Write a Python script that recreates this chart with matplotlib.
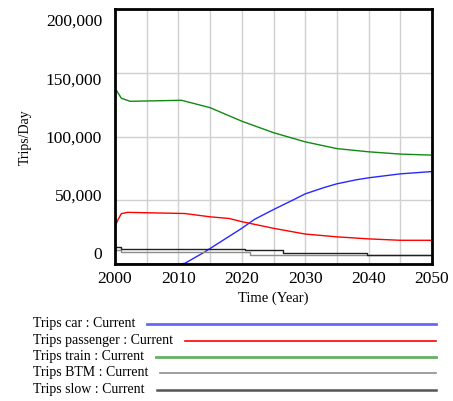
import matplotlib
matplotlib.use("Agg")
import matplotlib.pyplot as plt
from matplotlib.ticker import MultipleLocator

plt.rcParams['font.family'] = ['Liberation Serif', 'DejaVu Serif']

# series (Trips/Day)
car_years = [2000, 2010, 2011, 2014, 2017, 2020, 2022, 2025, 2028, 2030, 2033, 2035, 2038, 2040, 2045, 2050]
car_trips = [0, 0, 500, 9000, 18500, 28000, 35000, 42700, 50000, 55000, 60000, 62900, 66000, 67600, 70700, 72500]

pass_years = [2000, 2000.5, 2001, 2002, 2011, 2015, 2018, 2020, 2025, 2030, 2035, 2040, 2045, 2050]
pass_trips = [29500, 35000, 39500, 40500, 39600, 37000, 35700, 33200, 28000, 23500, 21300, 19700, 18600, 18600]

train_years = [2000, 2001, 2002.4, 2010.5, 2015, 2020, 2025, 2030, 2035, 2040, 2045, 2050]
train_trips = [138000, 130000, 127600, 128400, 122600, 112000, 103000, 95800, 90500, 88000, 86200, 85400]

btm_years = [2000, 2001, 2021.3, 2030, 2050]
btm_trips = [11000, 9300, 7300, 7000, 7000]

slow_years = [2000, 2001, 2020.5, 2026.5, 2039.7, 2050]
slow_trips = [13200, 11900, 10600, 8400, 7300, 7300]

y_labels = ['0', '50,000', '100,000', '150,000', '200,000']
y_values = [0, 50000, 100000, 150000, 200000]
x_ticks = [2000, 2010, 2020, 2030, 2040, 2050]

legend_names = ['Trips car : Current', 'Trips passenger : Current', 'Trips train : Current',
                'Trips BTM : Current', 'Trips slow : Current']
line_colors = ['#2828ff', '#ff0000', '#108a10', '#8c8c8c', '#202020']
legend_colors = ['#6666ff', '#ff0000', '#66b066', '#8c8c8c', '#555555']
legend_widths = [2.0, 1.2, 2.0, 1.2, 1.8]

fig = plt.figure(figsize=(4.53, 4.02), dpi=100)
ax = fig.add_axes([115/453, 137/402, 317/453, 255/402])

ax.plot(car_years, car_trips, color=line_colors[0], lw=1)
ax.plot(pass_years, pass_trips, color=line_colors[1], lw=1)
ax.plot(train_years, train_trips, color=line_colors[2], lw=1)
ax.plot(btm_years, btm_trips, color=line_colors[3], lw=1, drawstyle='steps-post')
ax.plot(slow_years, slow_trips, color=line_colors[4], lw=1, drawstyle='steps-post')

ax.set_xlim(2000, 2050)
ax.set_ylim(0, 200000)
ax.xaxis.set_major_locator(MultipleLocator(5))
ax.yaxis.set_major_locator(MultipleLocator(50000))
ax.grid(True, color='#d0d0d0', lw=1)
ax.set_axisbelow(True)
ax.tick_params(length=0, labelleft=False, labelbottom=False)
for s in ax.spines.values():
    s.set_linewidth(2)
    s.set_color('black')

# vensim-style labels, slightly offset from grid lines
for v, lab in zip(y_values, y_labels):
    ax.text(-0.041, 0.039 + v / 200000 * 0.914, lab, transform=ax.transAxes,
            ha='right', va='center', fontsize=12.5)
for yr in x_ticks:
    ax.text(yr, -0.055, str(yr), transform=ax.get_xaxis_transform(),
            ha='center', va='center', fontsize=12.5)

fig.text(25/453, 1 - 137/402, 'Trips/Day', rotation=90, ha='center', va='center', fontsize=10)
fig.text(273/453, 1 - 298/402, 'Time (Year)', ha='center', va='center', fontsize=10.5)

# legend below the chart
renderer = fig.canvas.get_renderer()
leg_y = [324, 341, 357, 373, 390]
for name, c, w, yy in zip(legend_names, legend_colors, legend_widths, leg_y):
    t = fig.text(33/453, 1 - yy/402, name, ha='left', va='center', fontsize=10)
    bb = t.get_window_extent(renderer)
    x0 = (bb.x1 + 12) / 453
    fig.add_artist(plt.Line2D([x0, 436/453], [1 - (yy + 1)/402] * 2, color=c, lw=w))

fig.savefig('out.png', dpi=100)
